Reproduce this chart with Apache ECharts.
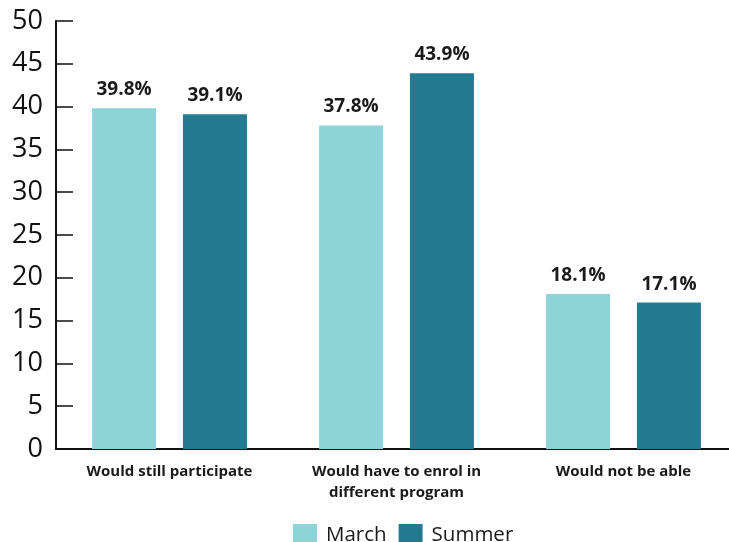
<!DOCTYPE html>
<html><head><meta charset="utf-8">
<script src="https://cdn.jsdelivr.net/npm/echarts@6/dist/echarts.min.js"></script>
<style>html,body{margin:0;padding:0;background:#fff}#c{width:729px;height:542px}</style>
</head><body><div id="c"></div>
<script>
const categories = ['Would still participate', 'Would have to enrol in\ndifferent program', 'Would not be able'];
const marchValues = [39.8, 37.8, 18.1];
const summerValues = [39.1, 43.9, 17.1];
const seriesNames = ['March', 'Summer'];

const font = '"Open Sans", "Noto Sans", sans-serif';
const chart = echarts.init(document.getElementById('c'), null, {renderer: 'canvas'});
const labelCfg = {show: true, position: 'top', distance: 9, fontFamily: font, fontWeight: 'bold', fontSize: 19, color: '#1a1a1a', formatter: p => p.value.toFixed(1) + '%'};
chart.setOption({
  animation: false,
  grid: {left: 56, width: 681, top: 21, height: 428, containLabel: false, outerBoundsMode: 'none'},
  legend: {
    left: 288, top: 519, itemWidth: 24, itemHeight: 22, itemGap: 12,
    icon: 'rect',
    textStyle: {fontFamily: font, fontSize: 20.5, color: '#1a1a1a', padding: [0, 0, 0, 4]},
    data: seriesNames
  },
  xAxis: {
    type: 'category', data: categories,
    axisLine: {lineStyle: {color: '#111', width: 2}},
    axisTick: {show: false},
    axisLabel: {fontFamily: font, fontWeight: 'bold', fontSize: 15, color: '#1a1a1a', margin: 12, lineHeight: 21, interval: 0}
  },
  yAxis: {
    type: 'value', min: 0, max: 50, interval: 5,
    axisLine: {show: true, lineStyle: {color: '#111', width: 2}},
    axisTick: {show: true, inside: true, length: 17, lineStyle: {color: '#111', width: 1.5}},
    splitLine: {show: false},
    axisLabel: {fontFamily: font, fontSize: 27, color: '#111', margin: 13}
  },
  series: [
    {name: seriesNames[0], type: 'bar', data: marchValues, barWidth: 64, barGap: '42%', itemStyle: {color: '#8DD4D8'}, label: labelCfg},
    {name: seriesNames[1], type: 'bar', data: summerValues, barWidth: 64, itemStyle: {color: '#237A91'}, label: labelCfg}
  ]
});
</script></body></html>
